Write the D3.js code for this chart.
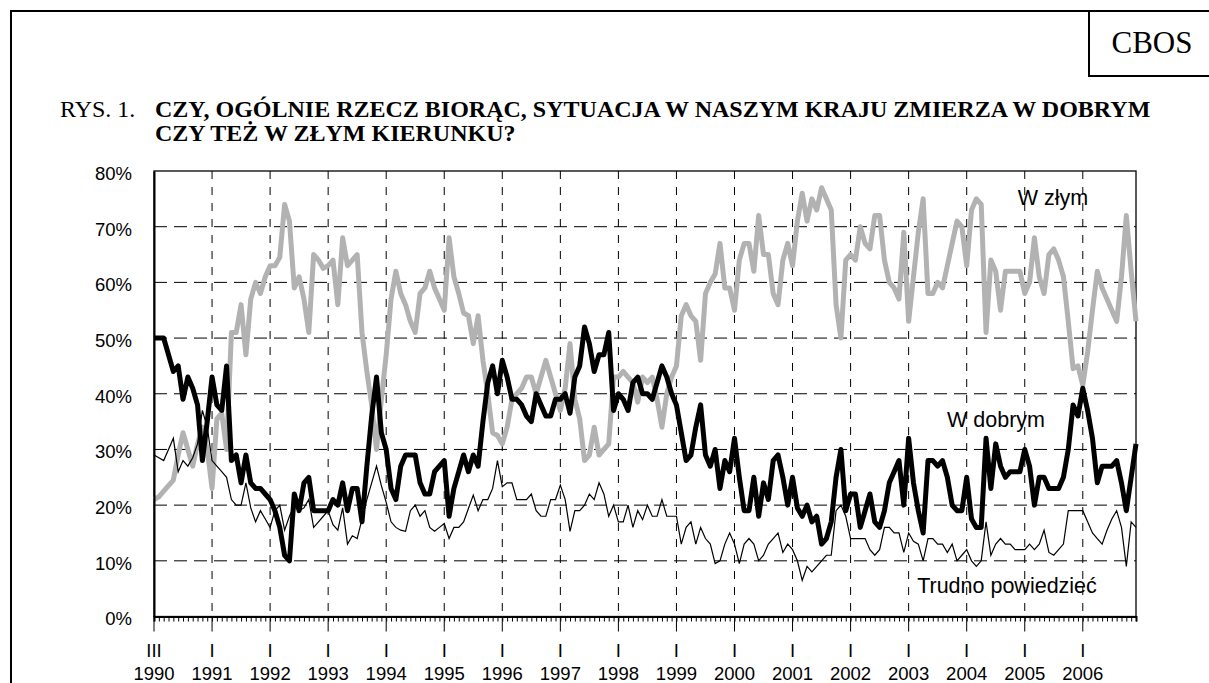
<!DOCTYPE html>
<html><head><meta charset="utf-8">
<script src="https://cdn.jsdelivr.net/npm/d3@7"></script>
<style>body{margin:0;background:#fff}svg{display:block}</style>
</head><body>
<svg id="c" width="1209" height="683"></svg>
<script>
// ---- data ----
const yearLabels = ["1990","1991","1992","1993","1994","1995","1996","1997","1998","1999","2000","2001","2002","2003","2004","2005","2006"];
const monthLabels = ["III","I","I","I","I","I","I","I","I","I","I","I","I","I","I","I","I"];
const yTicks = [0,10,20,30,40,50,60,70,80];
const seriesNames = ["W dobrym","W złym","Trudno powiedzieć"];

const wDobrym = [
50,50,50,47,44,45,39,43,41,38,28,35,
43,38,37,45,28,29,24,29,24,23,23,22,
21,19,16,11,10,22,19,24,25,19,19,19,
19,21,20,24,19,23,23,17,27,36,43,33,
30,23,21,27,29,29,29,24,22,22,26,27,
28,18,23,26,29,26,29,27,35,42,45,40,
46,43,39,39,38,36,35,40,38,36,36,39,
39,40,36.5,43,45,52,49,44,47,47,51,37,
40,39,37,42,43,40,40,39,42,45,43,40,
38,33,28,29,34,38,29,27,30,23,28,26,
32,25,19,19,25,18,24,21,28,29,25,20,
25,19.5,18,20,17,18,13,14,17,25,30,19,
22,22,16,19,22,17,16,19,24,26,28,20,
32,24,19,15,28,28,27,28,25,20,19,19,
25,17.5,16,16,32,23,31,27,25,26,26,26,
30,27,20,25,25,23,23,23,25,30,38,36,
41,37,32,24,27,27,27,28,24,19,25,31];

const wZlym = [
21,21.5,22.5,23.5,24.5,29,33,30,27,31,34,30,
23,35.5,36.5,30,51,51,56,47,57,60,58,61,
63,63,64.5,74,71,59,61,57,51,65,64,62.5,
63,64,56,68,63,64,65,51,44,38,30,39,
47,57,62,58,56,53,51,58,59,62,59,57,
55,68,61,58,54.5,54,49,54,46,40,33,32.5,
31,34,39,40,41,43,43,40,43,46,43,40,
37,41,49,39,35.5,28,29,34,29,30,31,43,
43,44,43,42,38.5,43,42,43,39,34,40,43,
45,54,56,54,53,46,58,60,61.5,67,59,59,
55,64,67,67,62,72,65,65,58,56,64,67,
63,71,76,71,75,73,77,75,73,56,50,64,
65,64,70,67,66,72,72,64,60,59,57,69,
53,61,69,75,58,58,60,59,63,67,71,70,
63,73,75,74,51,64,62,55,62,62,62,62,
58,60,68,61,58,65,66,64,61,53,44.5,45,
41.5,47.5,55,62,59,57,55,53,61,72,62,53];

const trudno = [
29,28.5,28,30,32,26,28,27,28.5,31,37,34,
28,27,26,25,21,20,20,24,19.5,17,19,17.5,
16,19,20,15.5,18,20,19,19.5,21,16,17,18,
19,16.5,15.5,19.5,13,14.5,14,17.5,21,24,27,23.5,
20.5,17,16,15.5,15.3,19,20,18,19,16,15.3,16,
16.7,14,16,16,17,19.4,21.8,19,21,21,23,28,
23.3,24,24,21,21,21,22,19,18,18,21,21,
23.6,21,15.3,19,19,20,22,21,24,22,18,20,
17,17,20,16,19,17.4,20,18,18,21,18,18,
18,13,16,17,13,16,14,13,9.5,10,13,15,
13,9.5,13,14,13,10,11,13,14,15,11.5,13,
12,10,6.5,9,8,9,10,11,11,19,20,18,
14,14,14,14,12,11,12,16,16,15,15,11.5,
15,13.5,13,10,14,14,13,13,11.5,13,10,11,
12,10,9,10,17,11,13,14,13,13,12,12,
12,13,12,13,15.5,11.5,11,12,13,19,19,19,
19,17,15,14,13,15.5,17.5,19,16,9,17,16];

// ---- layout ----
const svg = d3.select("#c");
const W = 1209, H = 683;
const plot = {l:154, r:1136, t:171, b:616.5};
const idx = d3.range(wDobrym.length);
const x = d3.scaleLinear().domain([0, idx.length-1]).range([plot.l, plot.r]);
const y = d3.scaleLinear().domain([0, 80]).range([plot.b, plot.t]);
const sans = "'Liberation Sans', Arial, sans-serif";
const serif = "'Liberation Serif', 'Times New Roman', serif";

// outer frame
svg.append("rect").attr("x",11).attr("y",11).attr("width",W+20).attr("height",H+20)
  .attr("fill","none").attr("stroke","#000").attr("stroke-width",2);
// CBOS box
svg.append("rect").attr("x",1089).attr("y",11).attr("width",W).attr("height",65)
  .attr("fill","none").attr("stroke","#000").attr("stroke-width",2);
svg.append("text").attr("x",1152).attr("y",53).attr("text-anchor","middle")
  .attr("font-family",serif).attr("font-size",31).text("CBOS");

// title
svg.append("text").attr("x",60).attr("y",117).attr("font-family",serif).attr("font-size",24).text("RYS. 1.");
const tt = svg.append("text").attr("font-family",serif).attr("font-size",24).attr("font-weight","bold");
tt.append("tspan").attr("x",155).attr("y",117).text("CZY, OGÓLNIE RZECZ BIORĄC, SYTUACJA W NASZYM KRAJU ZMIERZA W DOBRYM");
tt.append("tspan").attr("x",155).attr("y",141).text("CZY TEŻ W ZŁYM KIERUNKU?");

// gridlines
const g = svg.append("g");
g.selectAll("line.h").data(yTicks.filter(d=>d>0&&d<80)).join("line")
  .attr("x1",plot.l).attr("x2",plot.r).attr("y1",d=>y(d)).attr("y2",d=>y(d))
  .attr("stroke","#000").attr("stroke-width",1).attr("stroke-dasharray","13,7");
const yearIdx = yearLabels.map((d,i)=>i*12);
g.selectAll("line.v").data(yearIdx.slice(1)).join("line")
  .attr("x1",d=>x(d)).attr("x2",d=>x(d)).attr("y1",plot.t).attr("y2",plot.b)
  .attr("stroke","#000").attr("stroke-width",1).attr("stroke-dasharray","8,8");

// plot border
svg.append("rect").attr("x",plot.l).attr("y",plot.t).attr("width",plot.r-plot.l).attr("height",plot.b-plot.t)
  .attr("fill","none").attr("stroke","#000").attr("stroke-width",1.3);

// series
const line = d3.line().x((d,i)=>x(i)).y(d=>y(d)).curve(d3.curveLinear);
svg.append("path").datum(wZlym).attr("d",line).attr("fill","none").attr("stroke","#b2b2b2")
  .attr("stroke-width",5).attr("stroke-linejoin","round");
svg.append("path").datum(trudno).attr("d",line).attr("fill","none").attr("stroke","#000")
  .attr("stroke-width",1.2).attr("stroke-linejoin","miter");
svg.append("path").datum(wDobrym).attr("d",line).attr("fill","none").attr("stroke","#000")
  .attr("stroke-width",5).attr("stroke-linejoin","round");

// y axis
const ya = svg.append("g").attr("transform",`translate(${plot.l},0)`)
  .call(d3.axisLeft(y).tickValues(yTicks).tickSize(0).tickFormat(d=>d+"%"));
ya.select(".domain").attr("stroke","#000").attr("stroke-width",2);
ya.selectAll("text").attr("font-family",sans).attr("font-size",18.5).attr("fill","#000").attr("x",-22).attr("dy","0.45em");

// x axis: monthly minor ticks
const xa = svg.append("g").attr("transform",`translate(0,${plot.b})`)
  .call(d3.axisBottom(x).tickValues(idx).tickSize(5).tickFormat(""));
xa.select(".domain").attr("stroke","#000").attr("stroke-width",2);
xa.selectAll(".tick line").attr("stroke","#000").attr("stroke-width",1);
// major ticks + labels
const xl = svg.append("g");
xl.selectAll("line").data(yearIdx).join("line")
  .attr("x1",d=>x(d)).attr("x2",d=>x(d)).attr("y1",plot.b).attr("y2",plot.b+15)
  .attr("stroke","#000").attr("stroke-width",1);
xl.selectAll("text.m").data(yearIdx).join("text").attr("class","m")
  .attr("x",d=>x(d)).attr("y",657).attr("text-anchor","middle")
  .attr("font-family",sans).attr("font-size",18.5).text((d,i)=>monthLabels[i]);
xl.selectAll("text.yr").data(yearIdx).join("text").attr("class","yr")
  .attr("x",d=>x(d)).attr("y",680).attr("text-anchor","middle")
  .attr("font-family",sans).attr("font-size",18.5).text((d,i)=>yearLabels[i]);

// series labels
const lab = [{t:seriesNames[1],x:1053,y:205},{t:seriesNames[0],x:996,y:427},{t:seriesNames[2],x:1007,y:593}];
svg.selectAll("text.lab").data(lab).join("text").attr("class","lab")
  .attr("x",d=>d.x).attr("y",d=>d.y).attr("text-anchor","middle")
  .attr("font-family",sans).attr("font-size",21.5).text(d=>d.t);
</script>
</body></html>
